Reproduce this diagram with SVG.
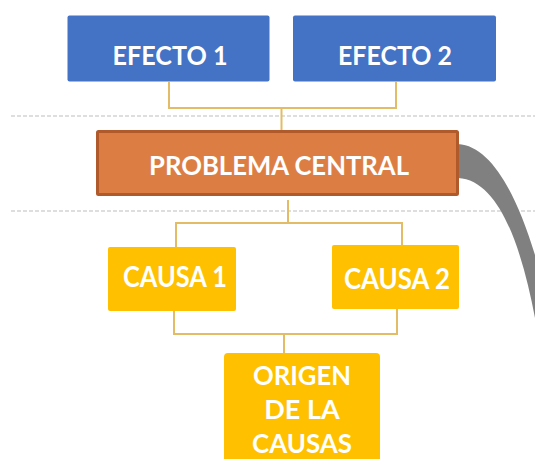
<svg xmlns="http://www.w3.org/2000/svg" width="535" height="459" viewBox="0 0 535 459">
<style>
.t{font-family:Lato,"Open Sans","Liberation Sans",sans-serif;font-weight:bold;fill:#fff;text-anchor:middle}
.c{fill:none;stroke:#E2BC66;stroke-width:2}
.d{fill:none;stroke:#BDBDBD;stroke-width:1.2;stroke-dasharray:4,2}
.blue{fill:#4472C4}
.yel{fill:#FFC000}
</style>
<rect width="535" height="459" fill="#fff"/>
<g id="guides">
<line class="d" x1="11" y1="116" x2="535" y2="116"/>
<line class="d" x1="11" y1="211" x2="535" y2="211"/>
</g>
<g id="connectors">
<polyline class="c" points="169,82 169,108 396,108 396,82"/>
<line class="c" x1="281.5" y1="108" x2="281.5" y2="131"/>
<line class="c" x1="288" y1="200" x2="288" y2="223"/>
<polyline class="c" points="176,248 176,223 402,223 402,245"/>
<polyline class="c" points="174,311 174,334 397,334 397,309"/>
<line class="c" x1="284" y1="334" x2="284" y2="353"/>
<path d="M458,144 C490,146 515,190 535,255 L535,318 C522,250 500,180 458,178 Z" fill="#808080"/>
</g>
<g id="efecto1">
<rect class="blue" x="67.5" y="15.5" width="202" height="66" rx="2"/>
<text class="t" x="170" y="65" font-size="27" textLength="115" lengthAdjust="spacingAndGlyphs">EFECTO 1</text>
</g>
<g id="efecto2">
<rect class="blue" x="293" y="15.5" width="203" height="66" rx="2"/>
<text class="t" x="395" y="65" font-size="27" textLength="114" lengthAdjust="spacingAndGlyphs">EFECTO 2</text>
</g>
<g id="problema">
<rect x="97.5" y="131.5" width="360" height="63" fill="#DC7E44" stroke="#B05A2C" stroke-width="3" rx="1"/>
<text class="t" x="279" y="175" font-size="27" textLength="260" lengthAdjust="spacingAndGlyphs">PROBLEMA CENTRAL</text>
</g>
<g id="causa1">
<rect class="yel" x="108" y="247" width="128" height="64" rx="2"/>
<text class="t" x="175" y="287" font-size="28" textLength="104" lengthAdjust="spacingAndGlyphs">CAUSA 1</text>
</g>
<g id="causa2">
<rect class="yel" x="332" y="245" width="127" height="64" rx="2"/>
<text class="t" x="397" y="289" font-size="28" textLength="106" lengthAdjust="spacingAndGlyphs">CAUSA 2</text>
</g>
<g id="origen">
<rect class="yel" x="224" y="353" width="156" height="112" rx="4"/>
<text class="t" x="302" y="385" font-size="27" textLength="98" lengthAdjust="spacingAndGlyphs">ORIGEN</text>
<text class="t" x="302" y="419" font-size="27">DE LA</text>
<text class="t" x="302" y="453" font-size="27" textLength="100" lengthAdjust="spacingAndGlyphs">CAUSAS</text>
</g>
</svg>
